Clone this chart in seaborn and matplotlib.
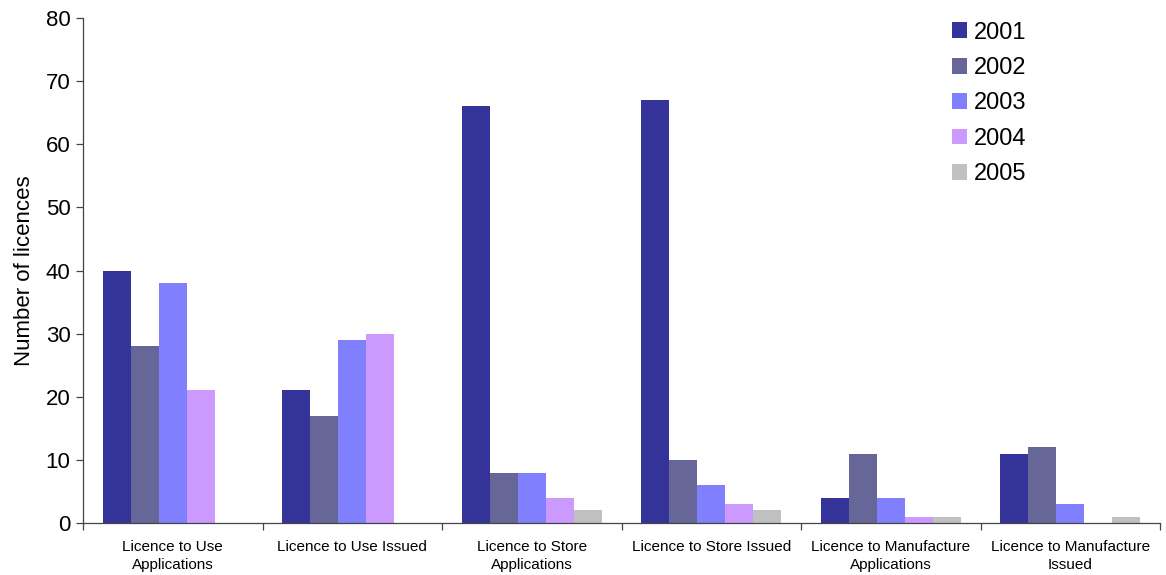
import matplotlib
matplotlib.use("Agg")
import matplotlib.pyplot as plt
import seaborn as sns
import pandas as pd

categories = [
    "Licence to Use\nApplications",
    "Licence to Use Issued",
    "Licence to Store\nApplications",
    "Licence to Store Issued",
    "Licence to Manufacture\nApplications",
    "Licence to Manufacture\nIssued",
]
years = ["2001", "2002", "2003", "2004", "2005"]
v2001 = [40, 21, 66, 67, 4, 11]
v2002 = [28, 17, 8, 10, 11, 12]
v2003 = [38, 29, 8, 6, 4, 3]
v2004 = [21, 30, 4, 3, 1, 0]
v2005 = [0, 0, 2, 2, 1, 1]
colors = ["#333399", "#666699", "#8080FF", "#CC99FF", "#C0C0C0"]

series = [v2001, v2002, v2003, v2004, v2005]
rows = []
for year, vals in zip(years, series):
    for cat, v in zip(categories, vals):
        rows.append({"category": cat, "year": year, "count": v})
df = pd.DataFrame(rows)

sns.set_style("white")
plt.rcParams["font.family"] = ["Liberation Sans", "DejaVu Sans"]
plt.rcParams["text.color"] = "black"
plt.rcParams["axes.labelcolor"] = "black"
plt.rcParams["xtick.color"] = "black"
plt.rcParams["ytick.color"] = "black"

fig = plt.figure(figsize=(11.66, 5.75), dpi=100)
ax = fig.add_axes([0.0712, 0.0904, 0.9238, 0.8783])

sns.barplot(data=df, x="category", y="count", hue="year", order=categories,
            hue_order=years, palette=colors, width=0.78, saturation=1,
            edgecolor="none", linewidth=0, ax=ax)

ax.set_xlim(-0.5, len(categories) - 0.5)
ax.set_ylim(0, 80)
ax.set_yticks(range(0, 81, 10))
ax.set_xlabel("")
ax.set_ylabel("Number of licences", fontsize=16, labelpad=8)

for side in ("top", "right"):
    ax.spines[side].set_visible(False)
for side in ("left", "bottom"):
    ax.spines[side].set_color("#444444")
    ax.spines[side].set_linewidth(0.9)

ax.tick_params(axis="y", which="major", direction="out", length=5, width=0.9,
               color="#444444", labelsize=16, left=True, pad=4)
ax.tick_params(axis="x", which="major", length=0, labelsize=11, pad=12)
for lbl in ax.get_xticklabels():
    lbl.set_linespacing(1.4)
ax.set_xticks([i + 0.5 for i in range(-1, len(categories))], minor=True)
ax.tick_params(axis="x", which="minor", direction="out", length=5, width=0.9,
               color="#444444", bottom=True)

leg = ax.legend(loc="upper left", bbox_to_anchor=(0.787, 1.035), frameon=False,
                fontsize=17, handlelength=0.64, handleheight=0.64,
                handletextpad=0.28, labelspacing=0.57)

fig.savefig("out.png", dpi=100)
